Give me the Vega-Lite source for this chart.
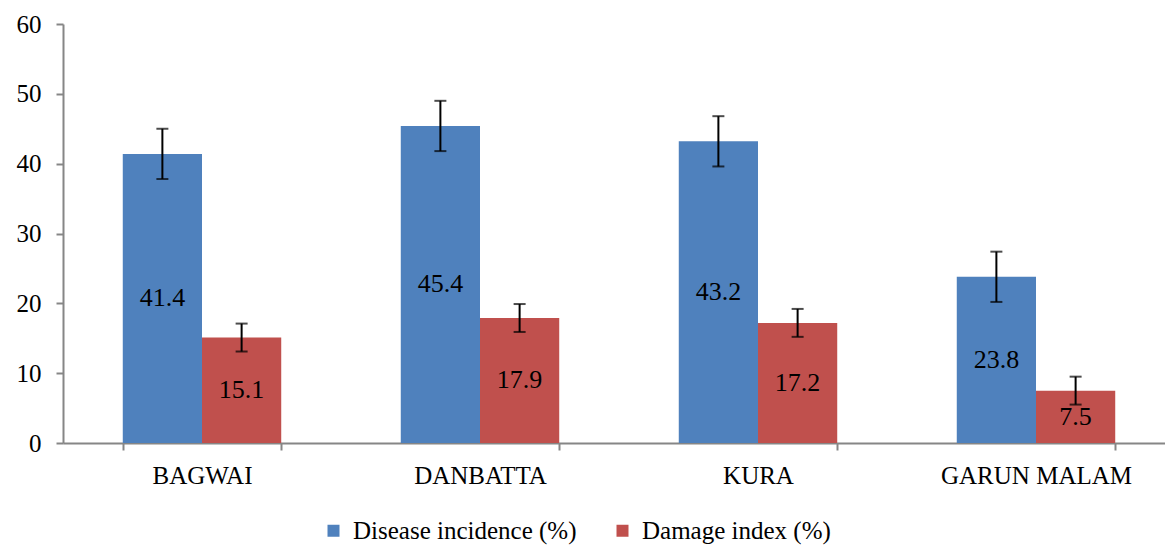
{
  "$schema": "https://vega.github.io/schema/vega-lite/v6.json",
  "width": 1112,
  "height": 419,
  "autosize": {"type": "none"},
  "padding": {"left": 63, "top": 24, "right": 0, "bottom": 103},
  "config": {
    "font": "Liberation Serif",
    "view": {"stroke": null},
    "axis": {
      "domainColor": "#868686",
      "domainWidth": 2,
      "tickColor": "#868686",
      "tickWidth": 2,
      "tickSize": 7,
      "grid": false,
      "labelFont": "Liberation Serif",
      "labelFontSize": 25,
      "labelColor": "black",
      "labelLimit": 400,
      "title": null
    },
    "legend": {"labelFont": "Liberation Serif", "labelFontSize": 25, "labelColor": "black"}
  },
  "data": {
    "values": [
      {"site": "BAGWAI", "series": "Disease incidence (%)", "value": 41.4, "lo": 37.8, "hi": 45.0},
      {"site": "BAGWAI", "series": "Damage index (%)", "value": 15.1, "lo": 13.1, "hi": 17.1},
      {"site": "DANBATTA", "series": "Disease incidence (%)", "value": 45.4, "lo": 41.8, "hi": 49.0},
      {"site": "DANBATTA", "series": "Damage index (%)", "value": 17.9, "lo": 15.9, "hi": 19.9},
      {"site": "KURA", "series": "Disease incidence (%)", "value": 43.2, "lo": 39.6, "hi": 46.8},
      {"site": "KURA", "series": "Damage index (%)", "value": 17.2, "lo": 15.2, "hi": 19.2},
      {"site": "GARUN MALAM", "series": "Disease incidence (%)", "value": 23.8, "lo": 20.2, "hi": 27.4},
      {"site": "GARUN MALAM", "series": "Damage index (%)", "value": 7.5, "lo": 5.5, "hi": 9.5}
    ]
  },
  "encoding": {
    "x": {
      "field": "site",
      "type": "nominal",
      "sort": ["BAGWAI", "DANBATTA", "KURA", "GARUN MALAM"],
      "scale": {"paddingInner": 0.43, "paddingOuter": 0.215},
      "axis": {"labelAngle": 0, "tickBand": "extent", "labelPadding": 13}
    },
    "xOffset": {
      "field": "series",
      "sort": ["Disease incidence (%)", "Damage index (%)"]
    }
  },
  "layer": [
    {
      "mark": {"type": "bar"},
      "encoding": {
        "y": {
          "field": "value",
          "type": "quantitative",
          "scale": {"domain": [0, 60]},
          "axis": {"values": [0, 10, 20, 30, 40, 50, 60], "labelPadding": 15}
        },
        "color": {
          "field": "series",
          "type": "nominal",
          "sort": ["Disease incidence (%)", "Damage index (%)"],
          "scale": {"domain": ["Disease incidence (%)", "Damage index (%)"], "range": ["#4F81BD", "#C0504D"]},
          "legend": {
            "orient": "none",
            "legendX": 258,
            "legendY": 494,
            "direction": "horizontal",
            "title": null,
            "symbolType": "square",
            "symbolSize": 144,
            "symbolStrokeWidth": 0,
            "labelFont": "Liberation Serif",
            "labelFontSize": 25,
            "labelColor": "black",
            "labelOffset": 7,
            "columnPadding": 33,
            "labelLimit": 400
          }
        }
      }
    },
    {
      "mark": {"type": "rule", "color": "black", "strokeWidth": 2},
      "encoding": {
        "y": {"field": "lo", "type": "quantitative"},
        "y2": {"field": "hi"}
      }
    },
    {
      "mark": {"type": "tick", "color": "black", "thickness": 2, "size": 12},
      "encoding": {"y": {"field": "lo", "type": "quantitative"}}
    },
    {
      "mark": {"type": "tick", "color": "black", "thickness": 2, "size": 12},
      "encoding": {"y": {"field": "hi", "type": "quantitative"}}
    },
    {
      "transform": [{"calculate": "datum.value / 2", "as": "mid"}],
      "mark": {"type": "text", "fontSize": 26, "color": "black", "font": "Liberation Serif"},
      "encoding": {
        "y": {"field": "mid", "type": "quantitative"},
        "text": {"field": "value", "type": "quantitative", "format": ".1f"}
      }
    }
  ]
}
